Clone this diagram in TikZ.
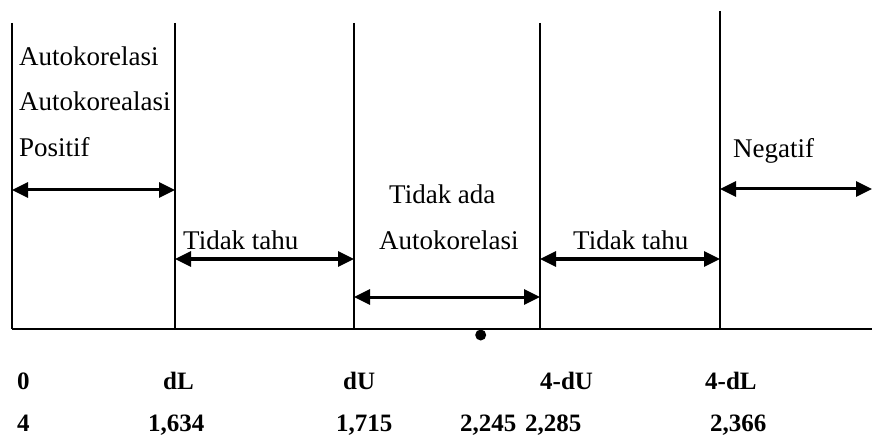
\documentclass[tikz,border=0pt]{standalone}
\usepackage{fontspec}
\setmainfont{Liberation Serif}
\usetikzlibrary{arrows.meta}
\begin{document}
\begin{tikzpicture}[x=1pt,y=-1pt,
  vline/.style={line width=2pt},
  darrow/.style={line width=3pt,{Triangle[length=16pt,width=15pt]}-{Triangle[length=16pt,width=15pt]}},
  lbl/.style={anchor=base west,inner sep=0pt,font=\fontsize{27}{32}\selectfont},
  blbl/.style={anchor=base west,inner sep=0pt,font=\fontsize{25}{30}\selectfont\bfseries}]
\useasboundingbox (0,0) rectangle (872,438);
% coordinates of the lines
\coordinate (t0) at (12,23);   \coordinate (b0) at (12,329);
\coordinate (t1) at (175,23);  \coordinate (b1) at (175,329);
\coordinate (t2) at (354,23);  \coordinate (b2) at (354,329);
\coordinate (t3) at (540,23);  \coordinate (b3) at (540,329);
\coordinate (t4) at (720,11);  \coordinate (b4) at (720,329);
\coordinate (bend) at (872,329);
\draw[vline] (t0) -- (b0);
\draw[vline] (t1) -- (b1);
\draw[vline] (t2) -- (b2);
\draw[vline] (t3) -- (b3);
\draw[vline] (t4) -- (b4);
\draw[vline] (b0) -- (bend);
% arrows
\coordinate (p0) at (12,190);  \coordinate (p1) at (175,190);
\coordinate (q0) at (175,259); \coordinate (q1) at (354,259);
\coordinate (r0) at (354,297); \coordinate (r1) at (540,297);
\coordinate (s0) at (540,259); \coordinate (s1) at (720,259);
\coordinate (n0) at (720,189); \coordinate (n1) at (872,189);
\draw[darrow] (p0) -- (p1);
\draw[darrow] (q0) -- (q1);
\draw[darrow] (r0) -- (r1);
\draw[darrow] (s0) -- (s1);
\draw[darrow] (n0) -- (n1);
% dot
\fill (480.7,335) circle (5.5pt) coordinate (dot);
% texts
\node[lbl] (a1) at (19,66) {Autokorelasi};
\node[lbl] (a2) at (19,111) {Autokorealasi};
\node[lbl] (a3) at (19,157) {Positif};
\node[lbl] (ng) at (733,158) {Negatif};
\node[lbl] (tt1) at (183,250) {Tidak tahu};
\node[lbl] (tt2) at (573,250) {Tidak tahu};
\node[lbl] (ta1) at (389,204) {Tidak ada};
\node[lbl] (ta2) at (379,250) {Autokorelasi};
% bold labels
\node[blbl] (l0) at (17,389) {0};
\node[blbl] (l1) at (163,389) {dL};
\node[blbl] (l2) at (343,389) {dU};
\node[blbl] (l3) at (540,389) {4-dU};
\node[blbl] (l4) at (705,389) {4-dL};
\node[blbl] (v0) at (17,431) {4};
\node[blbl] (v1) at (148,431) {1,634};
\node[blbl] (v2) at (336,431) {1,715};
\node[blbl] (v3) at (460,431) {2,245};
\node[blbl] (v4) at (525,431) {2,285};
\node[blbl] (v5) at (710,431) {2,366};
\end{tikzpicture}
\end{document}
